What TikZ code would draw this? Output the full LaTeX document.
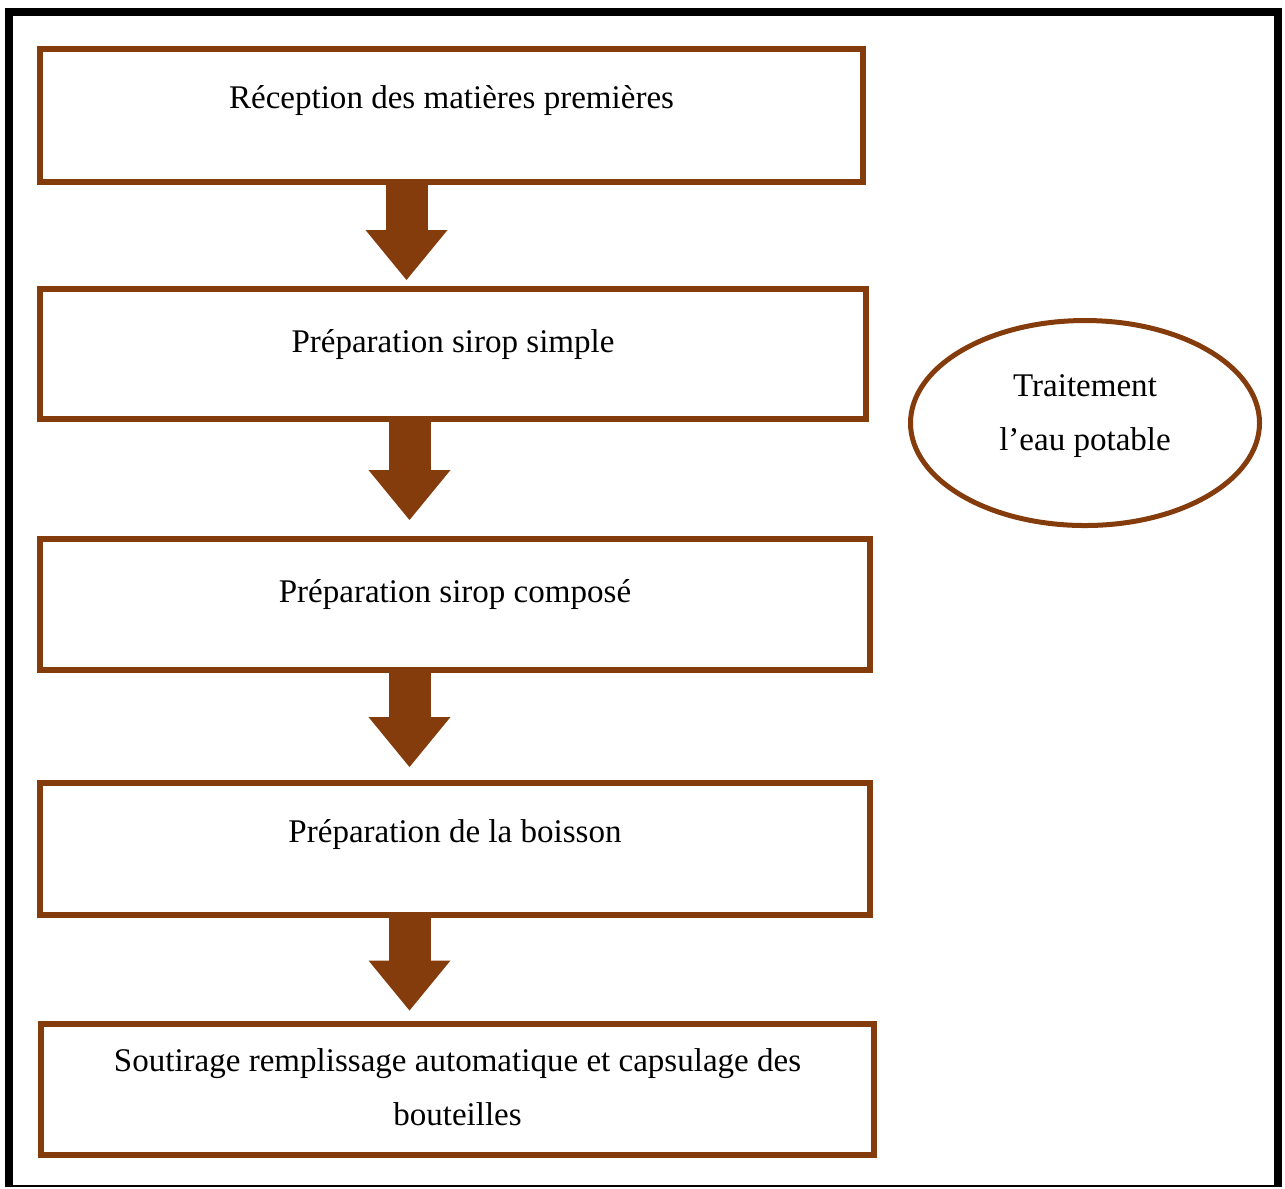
\documentclass[tikz,border=0pt]{standalone}
\usepackage{fontspec}
\setmainfont{Liberation Serif}
\usetikzlibrary{
  arrows.meta,
  shapes.geometric,
}
\definecolor{flowbrown}{RGB}{132,60,12}
\definecolor{framecol}{RGB}{0,0,0}
\tikzset{
  stepbox/.style={
    rectangle, draw=flowbrown, line width=0.6mm, fill=white,
    inner sep=0pt
  },
  steptext/.style={
    anchor=base, align=center, inner sep=0pt,
    font=\fontsize{9.4pt}{15.2pt}\selectfont
  },
  waterbox/.style={
    ellipse, draw=flowbrown, line width=0.5mm, fill=white,
    minimum width=3.49cm, minimum height=2.05cm, inner sep=0pt
  },
  flowarrow/.style={
    line width=0.42cm, flowbrown, line cap=butt,
    -{Triangle[width=0.82cm, length=0.5cm, line width=0pt]}
  },
  outerframe/.style={line width=0.8mm, framecol, line join=miter},
}
\begin{document}
\begin{tikzpicture}

  \useasboundingbox (0,0) rectangle (12.85,-11.88);

  % ── Outer frame ──
  \draw[outerframe] (0.09,-11.86) -- (0.09,-0.115) -- (12.78,-0.115) -- (12.78,-11.86);
  \draw[framecol, line width=0.2mm] (0.05,-11.86) -- (12.82,-11.86);

  % ── Process steps ──
  \node[stepbox, minimum width=8.23cm, minimum height=1.33cm] (Rec)  at (4.515,-1.155) {};
  \node[stepbox, minimum width=8.26cm, minimum height=1.30cm] (Ssp)  at (4.53, -3.54)  {};
  \node[stepbox, minimum width=8.30cm, minimum height=1.31cm] (Scp)  at (4.55, -6.045) {};
  \node[stepbox, minimum width=8.30cm, minimum height=1.32cm] (Boi)  at (4.55, -8.49)  {};
  \node[stepbox, minimum width=8.33cm, minimum height=1.31cm] (Sout) at (4.575,-10.89) {};

  % ── Step labels (set high in each box) ──
  \node[steptext] (RecT)  at (4.515,-1.08) {Réception des matières premières};
  \node[steptext] (SspT)  at (4.53, -3.52) {Préparation sirop simple};
  \node[steptext] (ScpT)  at (4.55, -6.02) {Préparation sirop composé};
  \node[steptext] (BoiT)  at (4.55, -8.42) {Préparation de la boisson};
  \node[steptext] (SoutT) at (4.575,-11.25) {Soutirage remplissage automatique et capsulage des\\bouteilles};

  % ── Water treatment ──
  \node[waterbox] (Eau) at (10.85,-4.23) {};
  \node[steptext] (EauT) at (10.85,-4.50) {Traitement\\l’eau potable};

  % ── Block arrows between steps ──
  \draw[flowarrow, shorten >=0.06cm] ([xshift=-0.45cm]Rec.south) -- ([xshift=-0.45cm]Rec.south |- Ssp.north);
  \draw[flowarrow, shorten >=0.16cm] ([xshift=-0.435cm]Ssp.south) -- ([xshift=-0.435cm]Ssp.south |- Scp.north);
  \draw[flowarrow, shorten >=0.13cm] ([xshift=-0.455cm]Scp.south) -- ([xshift=-0.455cm]Scp.south |- Boi.north);
  \draw[flowarrow, shorten >=0.10cm] ([xshift=-0.455cm]Boi.south) -- ([xshift=-0.455cm]Boi.south |- Sout.north);

\end{tikzpicture}
\end{document}
